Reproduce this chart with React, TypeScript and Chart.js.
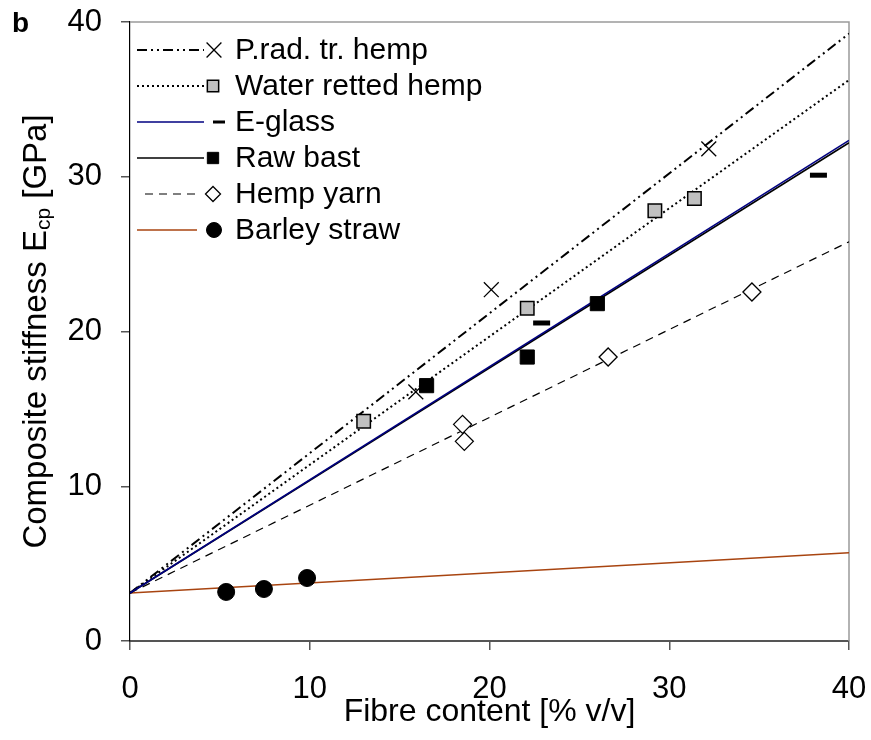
import React, { useEffect, useRef } from 'react';
import { Chart, registerables } from 'chart.js';

Chart.register(...registerables);

// ---- data ----
const xTicks = [0, 10, 20, 30, 40];
const yTicks = [0, 10, 20, 30, 40];
const seriesNames = ['P.rad. tr. hemp', 'Water retted hemp', 'E-glass', 'Raw bast', 'Hemp yarn', 'Barley straw'];

const fitX = [0, 40];
const pradFitY = [3.1, 39.25];
const waterFitY = [3.1, 36.25];
const eglassFitY = [3.1, 32.35];
const rawFitY = [3.1, 32.2];
const yarnFitY = [3.1, 25.8];
const barleyFitY = [3.1, 5.7];

const pradX = [15.9, 20.1, 32.2];
const pradY = [16.1, 22.7, 31.8];
const waterX = [13.0, 22.1, 29.2, 31.4];
const waterY = [14.2, 21.5, 27.8, 28.6];
const eglassX = [22.9, 38.3];
const eglassY = [20.55, 30.1];
const rawX = [16.5, 22.1, 26.0];
const rawY = [16.5, 18.35, 21.8];
const yarnX = [18.5, 18.6, 26.6, 34.6];
const yarnY = [14.0, 12.9, 18.35, 22.55];
const barleyX = [5.35, 7.45, 9.85];
const barleyY = [3.17, 3.36, 4.07];

// ---- styles ----
const FONT = "Arial, 'Liberation Sans', sans-serif";

type Sty = {
  line: string; lw: number; dash: number[];
  ps: string; r: number; fill: string; stroke: string; bw: number;
  lr: number; lbw: number; lineEnd: number; lineStart: number; markX: number;
};
const styles: Sty[] = [
  { line: '#000000', lw: 2, dash: [10, 4, 2, 4, 2, 4], ps: 'crossRot', r: 10.5, fill: 'rgba(0,0,0,0)', stroke: '#000000', bw: 1.3, lr: 10.5, lbw: 1.3, lineStart: 137, lineEnd: 204, markX: 214 },
  { line: '#000000', lw: 2, dash: [2, 3], ps: 'rect', r: 9.5, fill: '#C0C0C0', stroke: '#000000', bw: 1.5, lr: 8, lbw: 1.5, lineStart: 137, lineEnd: 204, markX: 213 },
  { line: '#000080', lw: 1.6, dash: [], ps: 'line', r: 8.5, fill: '#000000', stroke: '#000000', bw: 5, lr: 6, lbw: 3, lineStart: 137, lineEnd: 204, markX: 219 },
  { line: '#000000', lw: 1.6, dash: [], ps: 'rect', r: 10, fill: '#000000', stroke: '#000000', bw: 1, lr: 8, lbw: 1, lineStart: 137, lineEnd: 204, markX: 213 },
  { line: '#000000', lw: 1.2, dash: [8, 6], ps: 'rectRot', r: 9, fill: '#FFFFFF', stroke: '#000000', bw: 1.3, lr: 7.5, lbw: 1.3, lineStart: 145, lineEnd: 197, markX: 213 },
  { line: '#A84410', lw: 1.6, dash: [], ps: 'circle', r: 8.5, fill: '#000000', stroke: '#000000', bw: 1, lr: 7.5, lbw: 1, lineStart: 137, lineEnd: 197, markX: 214 },
];

const fits = [pradFitY, waterFitY, eglassFitY, rawFitY, yarnFitY, barleyFitY];
const ptsX = [pradX, waterX, eglassX, rawX, yarnX, barleyX];
const ptsY = [pradY, waterY, eglassY, rawY, yarnY, barleyY];

function drawMarker(ctx: CanvasRenderingContext2D, s: Sty, x: number, y: number) {
  const r = s.lr;
  ctx.save();
  ctx.setLineDash([]);
  ctx.lineWidth = s.lbw;
  ctx.strokeStyle = s.stroke;
  ctx.fillStyle = s.fill;
  ctx.beginPath();
  if (s.ps === 'crossRot') {
    const o = r * Math.SQRT1_2;
    ctx.moveTo(x - o, y - o); ctx.lineTo(x + o, y + o);
    ctx.moveTo(x - o, y + o); ctx.lineTo(x + o, y - o);
    ctx.stroke();
  } else if (s.ps === 'rect') {
    const h = r * Math.SQRT1_2;
    ctx.rect(x - h, y - h, 2 * h, 2 * h);
    ctx.fill(); ctx.stroke();
  } else if (s.ps === 'line') {
    ctx.moveTo(x - r, y); ctx.lineTo(x + r, y);
    ctx.stroke();
  } else if (s.ps === 'rectRot') {
    ctx.moveTo(x - r, y); ctx.lineTo(x, y - r); ctx.lineTo(x + r, y); ctx.lineTo(x, y + r); ctx.closePath();
    ctx.fill(); ctx.stroke();
  } else if (s.ps === 'circle') {
    ctx.arc(x, y, r, 0, Math.PI * 2);
    ctx.fill(); ctx.stroke();
  }
  ctx.restore();
}

const decorPlugin = {
  id: 'decor',
  beforeDatasetsDraw(chart: any) {
    const { ctx, chartArea: a } = chart;
    ctx.save();
    ctx.strokeStyle = '#9A9A9A';
    ctx.lineWidth = 1.5;
    ctx.beginPath();
    ctx.moveTo(a.left, a.top); ctx.lineTo(a.right, a.top); ctx.lineTo(a.right, a.bottom);
    ctx.stroke();
    ctx.restore();
  },
  afterDraw(chart: any) {
    const { ctx, chartArea: a } = chart;
    ctx.save();
    // panel letter
    ctx.fillStyle = '#000';
    ctx.font = `bold 28px ${FONT}`;
    ctx.textBaseline = 'alphabetic';
    ctx.textAlign = 'left';
    ctx.fillText('b', 12, 32);

    // y-axis title with subscript
    const big = `33px ${FONT}`;
    const small = `21px ${FONT}`;
    const p1 = 'Composite stiffness E';
    const p2 = 'cp';
    const p3 = ' [GPa]';
    ctx.font = big; const w1 = ctx.measureText(p1).width; const w3 = ctx.measureText(p3).width;
    ctx.font = small; const w2 = ctx.measureText(p2).width;
    const total = w1 + w2 + w3;
    ctx.translate(46, (a.top + a.bottom) / 2);
    ctx.rotate(-Math.PI / 2);
    let cx = -total / 2;
    ctx.font = big; ctx.fillText(p1, cx, 0); cx += w1;
    ctx.font = small; ctx.fillText(p2, cx, 4); cx += w2;
    ctx.font = big; ctx.fillText(p3, cx, 0);
    ctx.restore();

    // legend
    ctx.save();
    seriesNames.forEach((name, i) => {
      const s = styles[i];
      const y = 50 + 36 * i;
      ctx.save();
      ctx.strokeStyle = s.line;
      ctx.lineWidth = s.lw;
      ctx.setLineDash(s.dash);
      ctx.beginPath();
      ctx.moveTo(s.lineStart, y); ctx.lineTo(s.lineEnd, y);
      ctx.stroke();
      ctx.restore();
      drawMarker(ctx, s, s.markX, y);
      ctx.fillStyle = '#000';
      ctx.font = `30px ${FONT}`;
      ctx.textBaseline = 'middle';
      ctx.textAlign = 'left';
      ctx.fillText(name, 235, y + 1);
    });
    ctx.restore();
  },
};

export default function App() {
  const ref = useRef<HTMLCanvasElement | null>(null);
  useEffect(() => {
    if (!ref.current) return;
    const datasets: any[] = [];
    // markers first (drawn on top)
    seriesNames.forEach((name, i) => {
      const s = styles[i];
      datasets.push({
        label: name + ' data',
        data: ptsX[i].map((x, j) => ({ x, y: ptsY[i][j] })),
        showLine: false,
        pointStyle: s.ps,
        pointRadius: s.r,
        pointHoverRadius: s.r,
        pointBackgroundColor: s.fill,
        pointBorderColor: s.stroke,
        pointBorderWidth: s.bw,
        order: 0,
      });
    });
    seriesNames.forEach((name, i) => {
      const s = styles[i];
      datasets.push({
        label: name,
        data: fitX.map((x, j) => ({ x, y: fits[i][j] })),
        showLine: true,
        borderColor: s.line,
        borderWidth: s.lw,
        borderDash: s.dash,
        pointRadius: 0,
        fill: false,
        order: i === 2 ? 1 : 2,
      });
    });

    const chart = new Chart(ref.current, {
      type: 'scatter',
      data: { datasets },
      plugins: [decorPlugin],
      options: {
        responsive: false,
        animation: false,
        devicePixelRatio: 1,
        layout: { padding: { top: 22, right: 22, left: 0, bottom: 0 } },
        plugins: { legend: { display: false }, tooltip: { enabled: false }, title: { display: false } },
        scales: {
          x: {
            type: 'linear', min: 0, max: 40,
            afterBuildTicks: (sc: any) => { sc.ticks = xTicks.map((v) => ({ value: v })); },
            afterFit: (sc: any) => { sc.height = 99; sc.paddingLeft = 0; sc.paddingRight = 0; },
            ticks: { font: { family: FONT, size: 31, lineHeight: 1.2 }, color: '#000', padding: 21, maxRotation: 0 },
            grid: { drawOnChartArea: false, drawTicks: true, tickLength: 9, color: '#555555', lineWidth: 1.5 },
            border: { display: true, color: '#555555', width: 2 },
            title: { display: true, text: 'Fibre content [% v/v]', color: '#000', font: { family: FONT, size: 32, lineHeight: 1.2 }, padding: { top: 0, bottom: 9 } },
          },
          y: {
            type: 'linear', min: 0, max: 40,
            afterBuildTicks: (sc: any) => { sc.ticks = yTicks.map((v) => ({ value: v })); },
            afterFit: (sc: any) => { sc.width = 130; sc.paddingTop = 0; sc.paddingBottom = 0; },
            ticks: { font: { family: FONT, size: 31, lineHeight: 1.2 }, color: '#000', padding: 19 },
            grid: { drawOnChartArea: false, drawTicks: true, tickLength: 9, color: '#555555', lineWidth: 1.5 },
            border: { display: true, color: '#000000', width: 1.2 },
            title: { display: false },
          },
        },
      } as any,
    });
    return () => chart.destroy();
  }, []);

  return (
    <div style={{ position: 'absolute', left: 0, top: 0, width: 871, height: 740, background: '#fff' }}>
      <canvas ref={ref} width={871} height={740} style={{ display: 'block', width: 871, height: 740 }} />
    </div>
  );
}
